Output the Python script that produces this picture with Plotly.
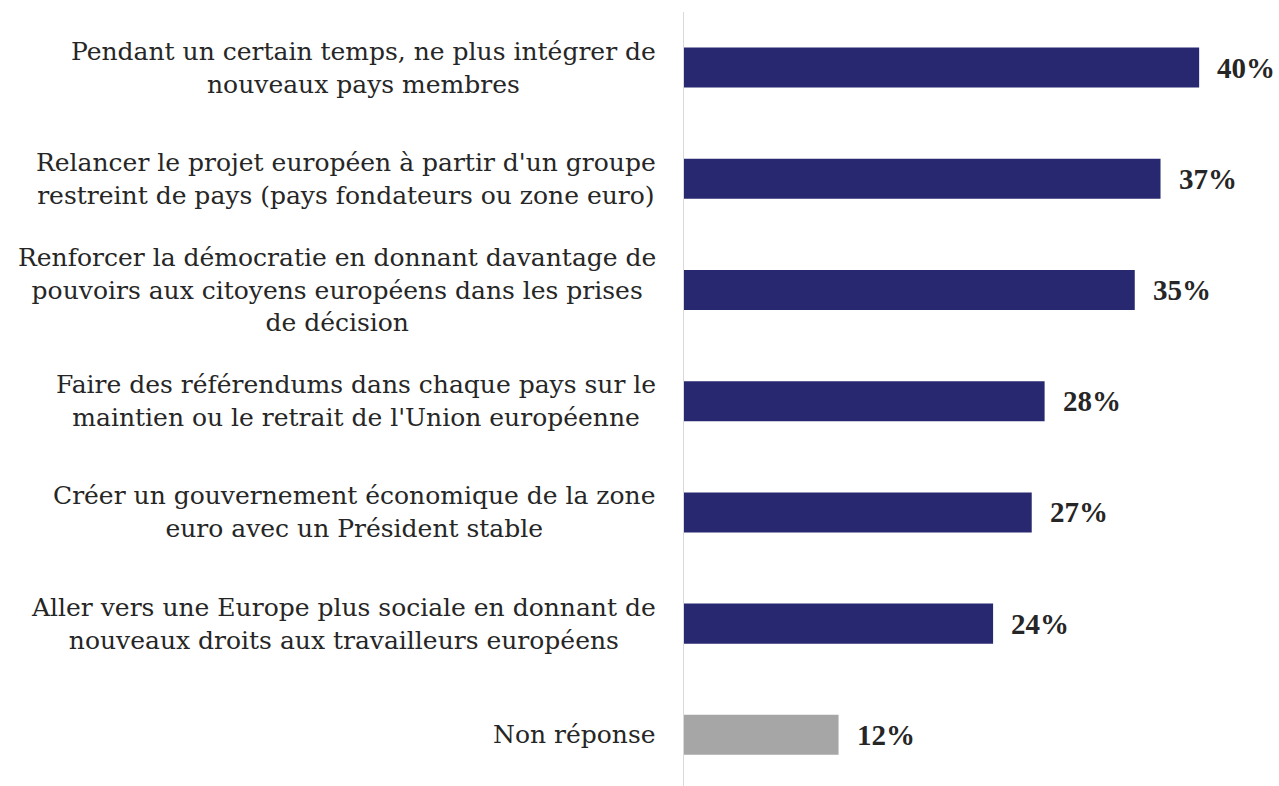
import plotly.graph_objects as go

categories = [
    "Pendant un certain temps, ne plus intégrer de<br>nouveaux pays membres",
    "Relancer le projet européen à partir d'un groupe<br>restreint de pays (pays fondateurs ou zone euro)",
    "Renforcer la démocratie en donnant davantage de<br>pouvoirs aux citoyens européens dans les prises<br>de décision",
    "Faire des référendums dans chaque pays sur le<br>maintien ou le retrait de l'Union européenne",
    "Créer un gouvernement économique de la zone<br>euro avec un Président stable",
    "Aller vers une Europe plus sociale en donnant de<br>nouveaux droits aux travailleurs européens",
    "Non réponse",
]
values = [40, 37, 35, 28, 27, 24, 12]
bar_colors = ["#282870"] * 6 + ["#a6a6a6"]

keys = [f"c{i}" for i in range(len(categories))]

fig = go.Figure(
    go.Bar(
        x=values,
        y=keys,
        orientation="h",
        marker=dict(color=bar_colors, line=dict(width=0)),
        width=0.36,
        hoverinfo="skip",
    )
)

annotations = []
for k, lab, v in zip(keys, categories, values):
    annotations.append(dict(
        x=0, xref="paper", y=k, yref="y",
        text=lab, showarrow=False, xanchor="right", yanchor="middle",
        align="center", xshift=-26,
        font=dict(family="DejaVu Serif", size=25, color="#262626"),
    ))
    annotations.append(dict(
        x=v, xref="x", y=k, yref="y",
        text=f"<b>{v}%</b>", showarrow=False, xanchor="left", yanchor="middle",
        xshift=16,
        font=dict(family="Liberation Serif", size=29, color="#262626"),
    ))

fig.update_layout(
    width=1279, height=786,
    margin=dict(l=684, r=0, t=12, b=0),
    paper_bgcolor="white", plot_bgcolor="white",
    showlegend=False,
    annotations=annotations,
    xaxis=dict(range=[0, 46.2], visible=False, fixedrange=True),
    yaxis=dict(
        range=[6.46, -0.5], showticklabels=False, showgrid=False,
        zeroline=False, showline=True, linecolor="#d9d9d9", linewidth=1,
        ticks="", fixedrange=True,
    ),
)

fig.write_html(
    "out.html",
    config={"displayModeBar": False, "staticPlot": True},
    post_script="document.body.style.margin='0';document.body.style.overflow='hidden';",
)
